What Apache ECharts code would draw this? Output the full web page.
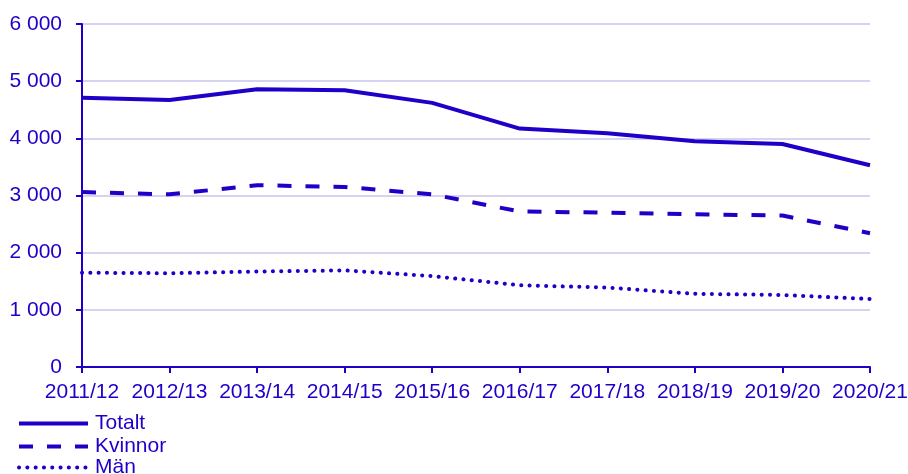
<!DOCTYPE html>
<html><head><meta charset="utf-8">
<script src="https://cdn.jsdelivr.net/npm/echarts@6/dist/echarts.min.js"></script>
<style>html,body{margin:0;padding:0;background:#fff}#c{width:908px;height:474px}</style>
</head><body><div id="c"></div>
<script>
const categories = ['2011/12','2012/13','2013/14','2014/15','2015/16','2016/17','2017/18','2018/19','2019/20','2020/21'];
const totalt  = [4710, 4670, 4860, 4840, 4620, 4170, 4090, 3950, 3900, 3530];
const kvinnor = [3060, 3020, 3180, 3150, 3020, 2720, 2700, 2670, 2650, 2340];
const man     = [1650, 1640, 1670, 1690, 1590, 1430, 1390, 1280, 1260, 1190];
const seriesNames = ['Totalt','Kvinnor','Män'];

const C = '#1e00c8';
const font = 'Liberation Sans, Arial, sans-serif';
const chart = echarts.init(document.getElementById('c'), null, {renderer:'canvas'});
function fmt(v){ return String(v).replace(/\B(?=(\d{3})+(?!\d))/g, ' '); }
const lineStyles = [
  {color:C, width:4, type:'solid'},
  {color:C, width:4, type:[14,14]},
  {color:C, width:4, type:[0.1,8.2], cap:'round'}
];
const legendTops = [413, 436, 457];
const legends = seriesNames.map((n, i) => ({
  orient:'vertical', left:17, top:legendTops[i], padding:0, itemWidth:69, itemHeight:10, itemGap:0,
  textStyle:{color:C, fontSize:21, fontFamily:font, padding:[0,0,0,2]},
  itemStyle:{opacity:0},
  lineStyle:Object.assign({}, lineStyles[i]),
  data:[n]
}));
chart.setOption({
  animation:false,
  textStyle:{fontFamily:font},
  grid:{left:82, right:38, top:24, bottom:107, containLabel:false, outerBoundsMode:'none'},
  legend:legends,
  xAxis:{
    type:'category', data:categories, boundaryGap:false,
    axisLine:{lineStyle:{color:C, width:2}},
    axisTick:{show:true, length:6, lineStyle:{color:C, width:2}, alignWithLabel:true},
    axisLabel:{color:C, fontSize:21, margin:15, fontFamily:font, interval:0},
    splitLine:{show:false}
  },
  yAxis:{
    type:'value', min:0, max:6000, interval:1000,
    axisLine:{show:true, lineStyle:{color:C, width:2}},
    axisTick:{show:true, length:6, lineStyle:{color:C, width:2}},
    axisLabel:{color:C, fontSize:21, margin:20, fontFamily:font, formatter:fmt},
    splitLine:{lineStyle:{color:'#d4d4f0', width:2}}
  },
  series:[
    {name:seriesNames[0], type:'line', data:totalt, symbol:'none', lineStyle:lineStyles[0], itemStyle:{color:C}},
    {name:seriesNames[1], type:'line', data:kvinnor, symbol:'none', lineStyle:lineStyles[1], itemStyle:{color:C}},
    {name:seriesNames[2], type:'line', data:man, symbol:'none', lineStyle:lineStyles[2], itemStyle:{color:C}}
  ]
});
</script></body></html>
